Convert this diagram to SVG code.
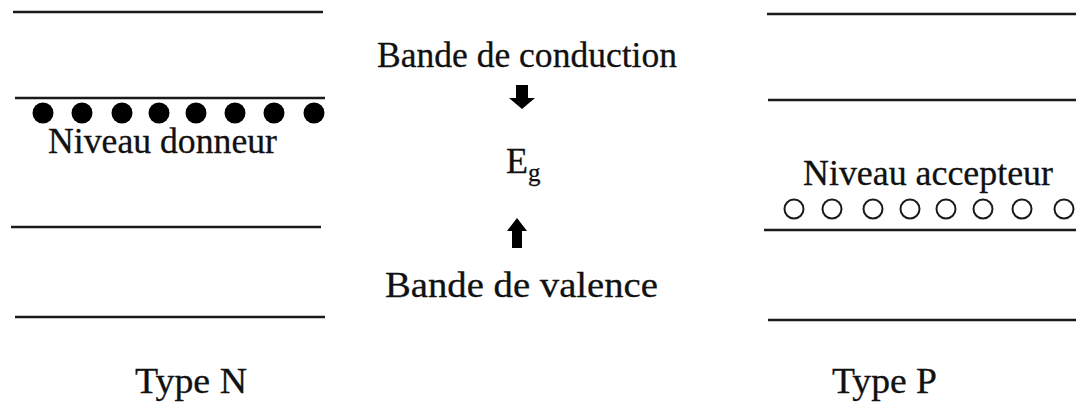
<svg xmlns="http://www.w3.org/2000/svg" width="1076" height="405" viewBox="0 0 1076 405">
  <style>
    .band { stroke: #1a1a1a; stroke-width: 2.5; fill: none; }
    .lbl { font-family: "Liberation Serif", "Times New Roman", serif; font-size: 36px; fill: #111; stroke: #111; stroke-width: 0.3; }
    .donor { fill: #000; }
    .acc { fill: none; stroke: #1a1a1a; stroke-width: 2; }
    .arrow { fill: #000; }
  </style>
  <rect width="1076" height="405" fill="#fff"/>

  <g id="type-n">
    <line class="band" x1="13" y1="12" x2="323" y2="12"/>
    <line class="band" x1="15" y1="98" x2="325" y2="98"/>
    <line class="band" x1="11" y1="227" x2="321" y2="227"/>
    <line class="band" x1="15" y1="317" x2="325" y2="317"/>
    <g id="donor-level">
      <circle class="donor" cx="43" cy="113" r="10.5"/>
      <circle class="donor" cx="82" cy="113" r="10.5"/>
      <circle class="donor" cx="122" cy="113" r="10.5"/>
      <circle class="donor" cx="159" cy="113" r="10.5"/>
      <circle class="donor" cx="196" cy="113" r="10.5"/>
      <circle class="donor" cx="235" cy="113" r="10.5"/>
      <circle class="donor" cx="274" cy="113" r="10.5"/>
      <circle class="donor" cx="314" cy="113" r="10.5"/>
      <text class="lbl" x="48" y="153" textLength="229" lengthAdjust="spacingAndGlyphs">Niveau donneur</text>
    </g>
    <text class="lbl" x="135" y="393" textLength="112" lengthAdjust="spacingAndGlyphs">Type N</text>
  </g>

  <g id="center">
    <text id="conduction" class="lbl" x="377" y="67" textLength="300" lengthAdjust="spacingAndGlyphs">Bande de conduction</text>
    <text id="eg" class="lbl" x="506" y="173">E<tspan font-size="25" dy="8">g</tspan></text>
    <text id="valence" class="lbl" x="385" y="297" textLength="273" lengthAdjust="spacingAndGlyphs">Bande de valence</text>
  </g>

  <g id="connectors">
    <path class="arrow" d="M516 85 H528 V98 H535 L522 109 L509 98 H516 Z"/>
    <path class="arrow" d="M512 248 H522 V231 H527 L517 218 L507 231 H512 Z"/>
  </g>

  <g id="type-p">
    <line class="band" x1="767" y1="14" x2="1076" y2="14"/>
    <line class="band" x1="768" y1="100" x2="1076" y2="100"/>
    <line class="band" x1="764" y1="230" x2="1076" y2="230"/>
    <line class="band" x1="768" y1="320" x2="1076" y2="320"/>
    <g id="acceptor-level">
      <text class="lbl" x="803" y="185" textLength="250" lengthAdjust="spacingAndGlyphs">Niveau accepteur</text>
      <circle class="acc" cx="794" cy="209" r="9.5"/>
      <circle class="acc" cx="832" cy="209" r="9.5"/>
      <circle class="acc" cx="873" cy="209" r="9.5"/>
      <circle class="acc" cx="910" cy="209" r="9.5"/>
      <circle class="acc" cx="946" cy="209" r="9.5"/>
      <circle class="acc" cx="983" cy="209" r="9.5"/>
      <circle class="acc" cx="1022" cy="209" r="9.5"/>
      <circle class="acc" cx="1064" cy="209" r="9.5"/>
    </g>
    <text class="lbl" x="832" y="393" textLength="105" lengthAdjust="spacingAndGlyphs">Type P</text>
  </g>
</svg>
